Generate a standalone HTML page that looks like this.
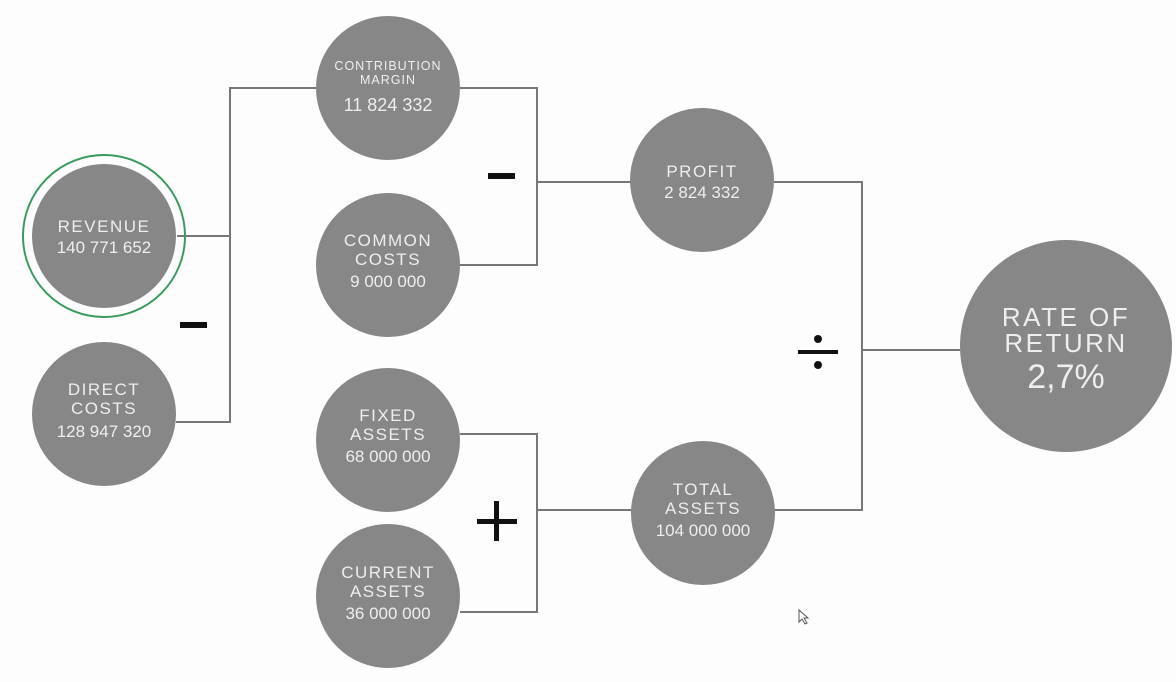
<!DOCTYPE html>
<html><head><style>
html,body{margin:0;padding:0;background:#fdfdfd;}
svg{display:block;}
text{font-family:"Liberation Sans",sans-serif;fill:#eeeeee;text-anchor:middle;}
.t{font-size:17px;letter-spacing:1.5px;}
.n{font-size:17px;}
</style></head><body>
<svg width="1176" height="682" viewBox="0 0 1176 682">
<g stroke="#777" stroke-width="2" fill="none">
<polyline points="177,236 230,236"/>
<polyline points="176,422 230,422 230,88 316,88"/>
<polyline points="460,88 537,88 537,265 460,265"/>
<polyline points="537,182 632,182"/>
<polyline points="774,182 862,182 862,510 774,510"/>
<polyline points="862,350 960,350"/>
<polyline points="460,434 537,434 537,612 460,612"/>
<polyline points="537,510 632,510"/>
</g>
<circle cx="104" cy="236" r="81" fill="none" stroke="#3a9a5c" stroke-width="2"/>
<g fill="#878787">
<circle cx="104" cy="236" r="72"/>
<circle cx="104" cy="414" r="72"/>
<circle cx="388" cy="88" r="72"/>
<circle cx="388" cy="265" r="72"/>
<circle cx="702" cy="180" r="72"/>
<circle cx="388" cy="440" r="72"/>
<circle cx="388" cy="596" r="72"/>
<circle cx="703" cy="513" r="72"/>
<circle cx="1066" cy="346" r="106"/>
</g>
<text class="t" x="104" y="232">REVENUE</text>
<text class="n" x="104" y="253">140 771 652</text>
<text class="t" x="104" y="395">DIRECT</text>
<text class="t" x="104" y="414">COSTS</text>
<text class="n" x="104" y="437">128 947 320</text>
<text x="388" y="70" style="font-size:12.5px;letter-spacing:1px">CONTRIBUTION</text>
<text x="388" y="84" style="font-size:12.5px;letter-spacing:1px">MARGIN</text>
<text class="n" x="388" y="111" style="font-size:18px">11 824 332</text>
<text class="t" x="388" y="246">COMMON</text>
<text class="t" x="388" y="265">COSTS</text>
<text class="n" x="388" y="287">9 000 000</text>
<text class="t" x="702" y="177">PROFIT</text>
<text class="n" x="702" y="198">2 824 332</text>
<text class="t" x="388" y="421">FIXED</text>
<text class="t" x="388" y="440">ASSETS</text>
<text class="n" x="388" y="462">68 000 000</text>
<text class="t" x="388" y="578">CURRENT</text>
<text class="t" x="388" y="597">ASSETS</text>
<text class="n" x="388" y="619">36 000 000</text>
<text class="t" x="703" y="495">TOTAL</text>
<text class="t" x="703" y="514">ASSETS</text>
<text class="n" x="703" y="536">104 000 000</text>
<text x="1066" y="326" style="font-size:26px;letter-spacing:2.5px">RATE OF</text>
<text x="1066" y="352" style="font-size:26px;letter-spacing:2.5px">RETURN</text>
<text x="1066" y="388" style="font-size:34px">2,7%</text>
<g fill="#111">
<rect x="180" y="322" width="27" height="6"/>
<rect x="488" y="173" width="27" height="6"/>
<rect x="477" y="519" width="40" height="5"/>
<rect x="494" y="501" width="5" height="40"/>
<rect x="798" y="350" width="40" height="4"/>
<circle cx="818" cy="339" r="4"/>
<circle cx="818" cy="365" r="4"/>
</g>
<path d="M799,610 L799,622 L802,619 L805,624 L807,623 L804,618 L808,618 Z" fill="#fff" stroke="#555" stroke-width="1"/>
</svg>
</body></html>
